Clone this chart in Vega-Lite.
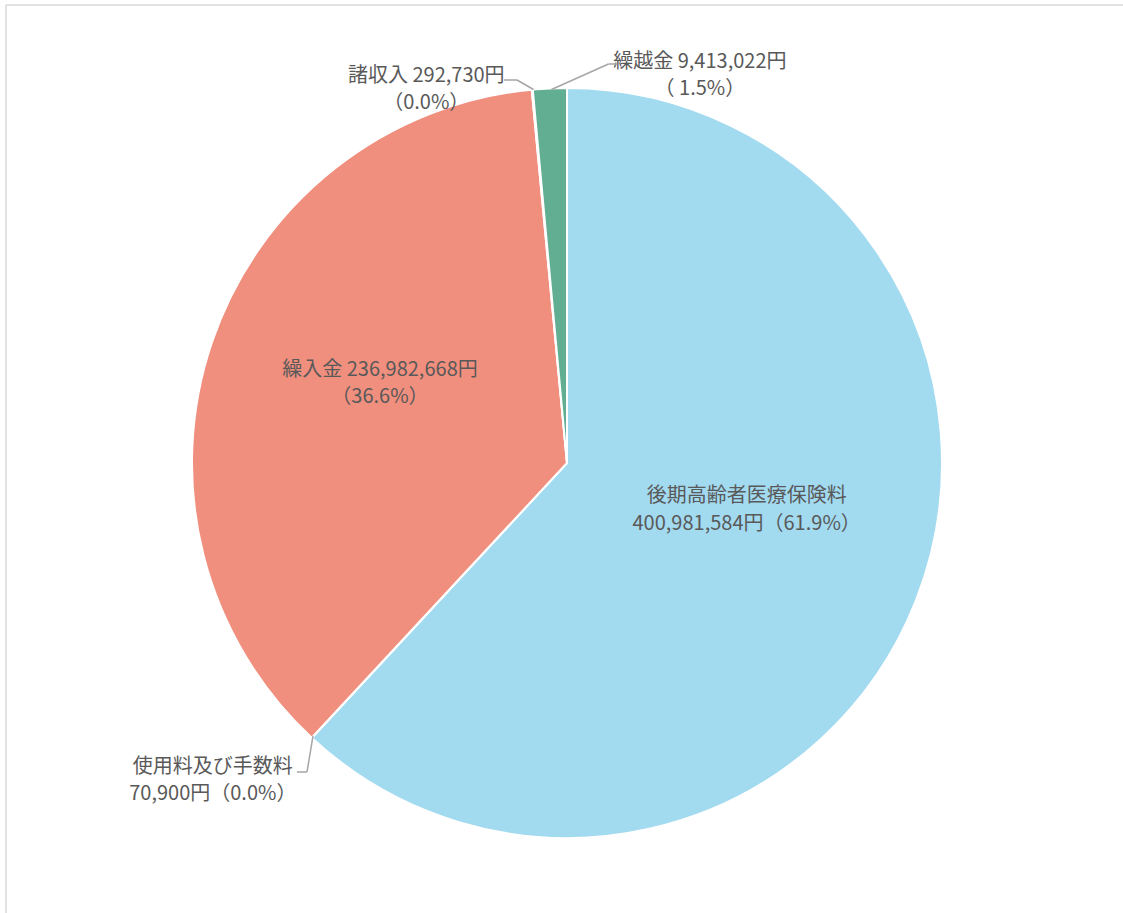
{
  "$schema": "https://vega.github.io/schema/vega-lite/v6.json",
  "width": 1117,
  "height": 908,
  "autosize": {"type": "none"},
  "padding": {"left": 6, "top": 5, "right": 0, "bottom": 0},
  "background": "white",
  "config": {
    "view": {"stroke": null},
    "text": {"font": "Noto Sans CJK JP"}
  },
  "data": {
    "values": [
      {"category": "後期高齢者医療保険料", "amount": 400981584, "order": 1, "label": "後期高齢者医療保険料\n400,981,584円（61.9%）"},
      {"category": "使用料及び手数料", "amount": 70900, "order": 2, "label": "使用料及び手数料\n70,900円（0.0%）"},
      {"category": "繰入金", "amount": 236982668, "order": 3, "label": "繰入金 236,982,668円\n（36.6%）"},
      {"category": "諸収入", "amount": 292730, "order": 4, "label": "諸収入 292,730円\n（0.0%）"},
      {"category": "繰越金", "amount": 9413022, "order": 5, "label": "繰越金 9,413,022円\n（ 1.5%）"}
    ]
  },
  "layer": [
    {
      "data": {"values": [{}]},
      "mark": {"type": "rule", "stroke": "#d9d9d9", "strokeWidth": 1.5},
      "encoding": {
        "x": {"datum": -1.496, "type": "quantitative", "scale": {"domain": [-1.496, 1.4827], "nice": false, "zero": false}, "axis": null},
        "y": {"datum": -1.2, "type": "quantitative", "scale": {"domain": [-1.2, 1.2213], "nice": false, "zero": false}, "axis": null},
        "x2": {"datum": -1.496},
        "y2": {"datum": 1.2213}
      }
    },
    {
      "data": {"values": [{}]},
      "mark": {"type": "rule", "stroke": "#d9d9d9", "strokeWidth": 1.5},
      "encoding": {
        "x": {"datum": -1.496, "type": "quantitative"},
        "y": {"datum": 1.2213, "type": "quantitative"},
        "x2": {"datum": 1.4827},
        "y2": {"datum": 1.2213}
      }
    },
    {
      "mark": {"type": "arc", "outerRadius": 375, "stroke": "white", "strokeWidth": 2},
      "encoding": {
        "x": {"datum": 0, "type": "quantitative"},
        "y": {"datum": 0, "type": "quantitative"},
        "theta": {"field": "amount", "type": "quantitative", "stack": true},
        "order": {"field": "order", "type": "quantitative"},
        "color": {
          "field": "category", "type": "nominal", "legend": null,
          "scale": {
            "domain": ["後期高齢者医療保険料", "使用料及び手数料", "繰入金", "諸収入", "繰越金"],
            "range": ["#a2daf0", "#a2daf0", "#f08f7e", "#62ae93", "#62ae93"]
          }
        }
      }
    },
    {
      "mark": {"type": "text", "radius": 193, "dy": -38, "fontSize": 20, "lineHeight": 28, "lineBreak": "\n", "fill": "#595959", "align": "center", "baseline": "middle"},
      "encoding": {
        "x": {"datum": 0, "type": "quantitative"},
        "y": {"datum": 0, "type": "quantitative"},
        "theta": {"field": "amount", "type": "quantitative", "stack": true},
        "order": {"field": "order", "type": "quantitative"},
        "text": {"condition": {"test": "datum.order === 1", "field": "label"}, "value": ""}
      }
    },
    {
      "mark": {"type": "text", "radius": 375, "dx": -99, "dy": 29, "fontSize": 20, "lineHeight": 27, "lineBreak": "\n", "fill": "#595959", "align": "center", "baseline": "middle"},
      "encoding": {
        "x": {"datum": 0, "type": "quantitative"},
        "y": {"datum": 0, "type": "quantitative"},
        "theta": {"field": "amount", "type": "quantitative", "stack": true},
        "order": {"field": "order", "type": "quantitative"},
        "text": {"condition": {"test": "datum.order === 2", "field": "label"}, "value": ""}
      }
    },
    {
      "mark": {"type": "text", "radius": 197.5, "dy": -30, "fontSize": 20, "lineHeight": 27, "lineBreak": "\n", "fill": "#595959", "align": "center", "baseline": "middle"},
      "encoding": {
        "x": {"datum": 0, "type": "quantitative"},
        "y": {"datum": 0, "type": "quantitative"},
        "theta": {"field": "amount", "type": "quantitative", "stack": true},
        "order": {"field": "order", "type": "quantitative"},
        "text": {"condition": {"test": "datum.order === 3", "field": "label"}, "value": ""}
      }
    },
    {
      "mark": {"type": "text", "radius": 375, "dx": -106, "dy": -14, "fontSize": 20, "lineHeight": 27, "lineBreak": "\n", "fill": "#595959", "align": "center", "baseline": "middle"},
      "encoding": {
        "x": {"datum": 0, "type": "quantitative"},
        "y": {"datum": 0, "type": "quantitative"},
        "theta": {"field": "amount", "type": "quantitative", "stack": true},
        "order": {"field": "order", "type": "quantitative"},
        "text": {"condition": {"test": "datum.order === 4", "field": "label"}, "value": ""}
      }
    },
    {
      "mark": {"type": "text", "radius": 375, "dx": 150, "dy": -26, "fontSize": 20, "lineHeight": 27, "lineBreak": "\n", "fill": "#595959", "align": "center", "baseline": "middle"},
      "encoding": {
        "x": {"datum": 0, "type": "quantitative"},
        "y": {"datum": 0, "type": "quantitative"},
        "theta": {"field": "amount", "type": "quantitative", "stack": true},
        "order": {"field": "order", "type": "quantitative"},
        "text": {"condition": {"test": "datum.order === 5", "field": "label"}, "value": ""}
      }
    },
    {
      "data": {"values": [{}]},
      "mark": {"type": "rule", "stroke": "#a6a6a6", "strokeWidth": 1.5},
      "encoding": {"x": {"datum": -0.168, "type": "quantitative"}, "y": {"datum": 1.0213, "type": "quantitative"}, "x2": {"datum": -0.1333}, "y2": {"datum": 1.0213}}
    },
    {
      "data": {"values": [{}]},
      "mark": {"type": "rule", "stroke": "#a6a6a6", "strokeWidth": 1.5},
      "encoding": {"x": {"datum": -0.1333, "type": "quantitative"}, "y": {"datum": 1.0213, "type": "quantitative"}, "x2": {"datum": -0.0893}, "y2": {"datum": 0.996}}
    },
    {
      "data": {"values": [{}]},
      "mark": {"type": "rule", "stroke": "#a6a6a6", "strokeWidth": 1.5},
      "encoding": {"x": {"datum": -0.0413, "type": "quantitative"}, "y": {"datum": 0.996, "type": "quantitative"}, "x2": {"datum": 0.1107}, "y2": {"datum": 1.064}}
    },
    {
      "data": {"values": [{}]},
      "mark": {"type": "rule", "stroke": "#a6a6a6", "strokeWidth": 1.5},
      "encoding": {"x": {"datum": 0.1107, "type": "quantitative"}, "y": {"datum": 1.064, "type": "quantitative"}, "x2": {"datum": 0.1333}, "y2": {"datum": 1.064}}
    },
    {
      "data": {"values": [{}]},
      "mark": {"type": "rule", "stroke": "#a6a6a6", "strokeWidth": 1.5},
      "encoding": {"x": {"datum": -0.72, "type": "quantitative"}, "y": {"datum": -0.824, "type": "quantitative"}, "x2": {"datum": -0.6933}, "y2": {"datum": -0.824}}
    },
    {
      "data": {"values": [{}]},
      "mark": {"type": "rule", "stroke": "#a6a6a6", "strokeWidth": 1.5},
      "encoding": {"x": {"datum": -0.6933, "type": "quantitative"}, "y": {"datum": -0.824, "type": "quantitative"}, "x2": {"datum": -0.6773}, "y2": {"datum": -0.728}}
    }
  ]
}
